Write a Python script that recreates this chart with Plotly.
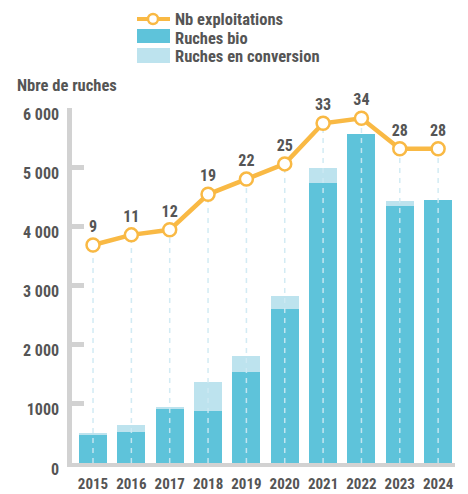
import plotly.graph_objects as go

years = ["2015", "2016", "2017", "2018", "2019", "2020", "2021", "2022", "2023", "2024"]
ruches_bio = [475, 525, 915, 885, 1545, 2600, 4740, 5560, 4345, 4445]
ruches_conv = [35, 120, 15, 485, 265, 225, 245, 0, 75, 0]
nb_exploit = [9, 11, 12, 19, 22, 25, 33, 34, 28, 28]

y_ticks = [0, 1000, 2000, 3000, 4000, 5000, 6000]
y_ticktext = ["0", "1000", "2 000", "3 000", "4 000", "5 000", "6 000"]

# the page body keeps its default 8px margin, so the figure is drawn 8px smaller
OFF = 8
W, H = 468 - OFF, 494 - OFF
ML, MR, MT, MB = 72 - OFF, 13, 108 - OFF, 31
PW, PH = W - ML - MR, H - MT - MB

FONT = "Roboto Condensed, Open Sans Condensed, sans-serif"
GREY = "#555555"
ORANGE = "#F9B944"
BIO = "#5EC3DA"
CONV = "#BDE3EE"
AXIS = "#D2D2D2"


def px(x):
    # page pixel -> paper fraction
    return (x - OFF - ML) / PW


def py(y):
    return 1 - (y - OFF - MT) / PH


fig = go.Figure()
fig.add_trace(go.Bar(x=years, y=ruches_bio, marker=dict(color=BIO, line=dict(width=0)),
                     name="Ruches bio", width=0.73))
fig.add_trace(go.Bar(x=years, y=ruches_conv, marker=dict(color=CONV, line=dict(width=0)),
                     name="Ruches en conversion", width=0.73))

# dashed drop lines from each point to the baseline
dx, dy = [], []
for yr, n in zip(years, nb_exploit):
    dx += [yr, yr, None]
    dy += [-34, n, None]
fig.add_trace(go.Scatter(x=dx, y=dy, yaxis="y2", mode="lines", hoverinfo="skip",
                         line=dict(color="rgba(205,233,243,0.9)", width=1.5, dash="5px,5px"),
                         showlegend=False))

fig.add_trace(go.Scatter(
    x=years, y=nb_exploit, yaxis="y2", mode="lines+markers+text",
    text=[str(v) for v in nb_exploit], textposition="top center",
    textfont=dict(family=FONT, size=16, color=GREY, weight="bold"),
    line=dict(color=ORANGE, width=4.5),
    marker=dict(size=13, color="white", line=dict(color=ORANGE, width=2.5)),
    cliponaxis=False, name="Nb exploitations",
))

# legend drawn by hand
shapes = [
    dict(type="line", xref="paper", yref="paper", x0=px(137), x1=px(170), y0=py(19), y1=py(19),
         line=dict(color=ORANGE, width=4)),
    dict(type="circle", xref="paper", yref="paper", x0=px(148), x1=px(158), y0=py(24), y1=py(14),
         fillcolor="white", line=dict(color=ORANGE, width=2.5)),
    dict(type="rect", xref="paper", yref="paper", x0=px(137), x1=px(170), y0=py(29), y1=py(43),
         fillcolor=BIO, line=dict(width=0)),
    dict(type="rect", xref="paper", yref="paper", x0=px(137), x1=px(170), y0=py(48), y1=py(63),
         fillcolor=CONV, line=dict(width=0)),
]
legend_txt = [("Nb exploitations", 20), ("Ruches bio", 38), ("Ruches en conversion", 57)]
annotations = [
    dict(text=t, x=px(173), y=py(yy), xref="paper", yref="paper", xanchor="left", yanchor="middle",
         showarrow=False, font=dict(family=FONT, size=16.5, color=GREY, weight="bold"))
    for t, yy in legend_txt
]
annotations.append(dict(text="Nbre de ruches", x=px(15), y=py(85), xref="paper", yref="paper",
                        xanchor="left", yanchor="middle", showarrow=False,
                        font=dict(family=FONT, size=16.5, color=GREY, weight="bold")))

fig.update_layout(
    width=W, height=H, margin=dict(l=ML, r=MR, t=MT, b=MB),
    paper_bgcolor="white", plot_bgcolor="white",
    barmode="stack", bargap=0.27, showlegend=False,
    font=dict(family=FONT, size=16, color=GREY),
    xaxis=dict(range=[-0.548, 9.44], showgrid=False, showline=True, linecolor=AXIS, linewidth=4,
               ticks="", tickangle=0, ticklabelstandoff=4, automargin=False,
               tickfont=dict(family=FONT, size=15, color=GREY, weight="bold")),
    yaxis=dict(range=[0, 6000], showgrid=False, showline=True, linecolor=AXIS, linewidth=4.5,
               zeroline=False, ticks="inside", ticklen=12, tickwidth=4.5, tickcolor=AXIS,
               tickvals=y_ticks, ticktext=y_ticktext, ticklabelstandoff=5, ticklabelshift=6,
               automargin=False,
               tickfont=dict(family=FONT, size=16, color=GREY, weight="bold")),
    yaxis2=dict(range=[-33.99, 36.02], overlaying="y", visible=False),
    shapes=shapes, annotations=annotations,
)

fig.write_html("out.html")
